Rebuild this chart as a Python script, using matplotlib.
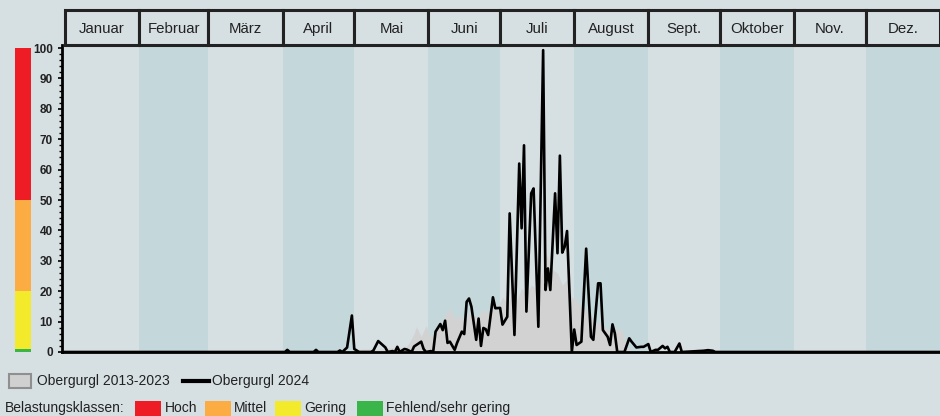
import numpy as np
import matplotlib
matplotlib.use("Agg")
import matplotlib.pyplot as plt
from matplotlib.patches import Rectangle
from matplotlib.lines import Line2D

plt.rcParams["font.family"] = ["Liberation Sans", "DejaVu Sans"]

# --- data -----------------------------------------------------------------
months = ["Januar", "Februar", "März", "April", "Mai", "Juni", "Juli",
          "August", "Sept.", "Oktober", "Nov.", "Dez."]
month_days = [31, 29, 31, 30, 31, 30, 31, 31, 30, 31, 30, 31]

# Obergurgl 2024 (day of year, 0 = 1 Jan)
days_2024 = [0, 92, 93, 94, 104, 105, 106, 114, 115, 116, 118, 120, 121, 122, 123,
             128, 129, 131, 134, 135, 137, 138, 139, 140, 142, 143, 145, 146, 149, 150,
             151, 153, 154, 155, 157, 158, 159, 160, 161, 163, 164, 166, 167, 168, 169,
             170, 172, 173, 174, 175, 176, 177, 179, 180, 182, 183, 185, 186, 188, 190,
             191, 192, 193, 195, 196, 198, 200, 201, 202, 203, 205, 206, 207, 208, 209,
             210, 212, 213, 214, 216, 218, 220, 221, 223, 224, 225, 227, 228, 229, 230,
             231, 234, 236, 237, 239, 241, 242, 244, 245, 247, 248, 250, 251, 252, 253,
             255, 257, 258, 267, 269, 271, 272, 366]
vals_2024 = [0, 0, 0.7, 0, 0, 0.7, 0, 0, 0.5, 0, 1.5, 12, 1.0, 0.5, 0,
             0, 0.5, 3.6, 1.5, 0, 0.3, 0, 1.7, 0, 1.0, 0.8, 0, 1.8, 3.4, 1.0,
             0, 0.3, 0, 6.7, 9.2, 7.2, 10.3, 3.0, 3.4, 0.7, 3.0, 6.7, 5.9, 16.5, 17.6,
             14.9, 4.0, 11.0, 2.0, 7.9, 7.5, 5.6, 18.0, 14.4, 14.5, 9.0, 11.6, 45.6, 5.6, 62.0,
             40.7, 68.0, 13.3, 52.2, 53.8, 8.3, 99.3, 20.4, 27.5, 20.4, 52.2, 32.5, 64.6, 32.7, 34.6,
             39.8, 0, 7.4, 2.3, 3.4, 34.0, 5.0, 4.0, 22.6, 22.6, 7.2, 5.0, 2.3, 9.1, 6.1,
             0, 0, 4.5, 3.4, 1.5, 1.7, 1.7, 2.6, 0, 0.7, 0.7, 2.0, 1.2, 1.7, 0,
             0, 2.8, 0, 0.4, 0.6, 0.4, 0, 0]

# Obergurgl 2013-2023 (mean)
days_ref = [0, 115, 120, 125, 130, 135, 139, 142, 144, 146, 147, 149, 151, 153, 155,
            157, 159, 161, 163, 165, 167, 169, 171, 173, 175, 177, 179, 181, 183, 185,
            187, 189, 191, 193, 195, 197, 199, 201, 202, 204, 206, 208, 210, 212, 214,
            216, 218, 220, 222, 224, 226, 228, 230, 233, 235, 237, 240, 366]
vals_ref = [0, 0, 0.5, 1.0, 0.8, 1.2, 1.5, 1.0, 3.0, 6.0, 8.3, 5.0, 8.6, 4.6, 7.0,
            9.0, 12.0, 14.4, 11.0, 12.0, 10.5, 13.0, 12.0, 11.6, 14.0, 13.0, 15.5, 15.0, 18.0, 16.0,
            19.0, 17.0, 21.0, 19.0, 22.0, 21.0, 24.0, 32.5, 31.0, 27.0, 26.0, 22.0, 23.7, 18.0, 17.0,
            15.0, 13.8, 12.0, 9.5, 10.0, 8.0, 7.2, 8.0, 7.2, 1.7, 0.5, 0, 0]

class_bounds = [0, 1, 20, 50, 100]
class_colors = ["#3ab54a", "#f2ea2b", "#fbac42", "#ee1c25"]
class_names = ["Hoch", "Mittel", "Gering", "Fehlend/sehr gering"]

# --- layout ---------------------------------------------------------------
W, H = 940, 416
BG = "#d6dfe2"
BAND = "#c4d8dc"
TXT = "#222222"

fig = plt.figure(figsize=(W / 100, H / 100), dpi=100, facecolor=BG)

def fx(px):
    return px / W

def fy(py):
    return 1 - py / H

x0 = -1.25
xmax = 366
ax = fig.add_axes([fx(62), fy(352), fx(W - 62), fy(45) - fy(352)])
ax.set_facecolor(BG)
ax.set_xlim(x0, xmax)
ax.set_ylim(0, 101)

starts = np.concatenate([[0], np.cumsum(month_days)[:-1]])
for i, (s, n) in enumerate(zip(starts, month_days)):
    if i % 2 == 1:
        ax.axvspan(s, s + n, color=BAND, lw=0, zorder=0)

ax.fill_between(days_ref, vals_ref, 0, color="#d2d2d2", lw=0, zorder=1)
ax.plot(days_2024, vals_2024, color="black", lw=1.9, zorder=3)

for side in ["top", "right"]:
    ax.spines[side].set_visible(False)
ax.spines["left"].set_linewidth(2)
ax.spines["bottom"].set_linewidth(2)
ax.set_xticks([])
ax.set_yticks(np.arange(0, 101, 10))
ax.set_yticks(np.arange(0, 101, 2), minor=True)
ax.tick_params(axis="y", which="major", length=3.2, width=1.2, pad=3.5,
               labelsize=8.5, colors="black")
ax.tick_params(axis="y", which="minor", length=2, width=1)
for lab in ax.get_yticklabels():
    lab.set_fontweight("bold")
    lab.set_color(TXT)

# colour scale bar
cax = fig.add_axes([fx(15), fy(352), fx(16), fy(45) - fy(352)])
cax.set_xlim(0, 1)
cax.set_ylim(0, 101)
for lo, hi, c in zip(class_bounds[:-1], class_bounds[1:], class_colors):
    cax.bar(0.5, hi - lo, bottom=lo, width=1, color=c, lw=0)
cax.axis("off")

# month header
hax = fig.add_axes([fx(62), fy(45), fx(W - 62), fy(10) - fy(45)])
hax.set_xlim(x0, xmax)
hax.set_ylim(0, 1)
hax.axis("off")
for s, n, name in zip(starts, month_days, months):
    hax.add_patch(Rectangle((s, 0), n, 1, facecolor=BG, edgecolor=TXT,
                            lw=2.2, clip_on=False))
    hax.text(s + n / 2, 0.47, name, ha="center", va="center", fontsize=10.8,
             color=TXT)

# legend
fs = 10
fig.patches.append(Rectangle((fx(9), fy(388)), fx(22), fy(374) - fy(388),
                             transform=fig.transFigure, facecolor="#d0d0d0",
                             edgecolor="#8f8f8f", lw=1.5))
fig.text(fx(37), fy(381), "Obergurgl 2013-2023", ha="left", va="center",
         fontsize=fs, color=TXT)
fig.lines.append(Line2D([fx(183), fx(209)], [fy(381), fy(381)],
                        transform=fig.transFigure, color="black", lw=3))
fig.text(fx(212), fy(381), "Obergurgl 2024", ha="left", va="center",
         fontsize=fs, color=TXT)

fig.text(fx(5), fy(408), "Belastungsklassen:", ha="left", va="center",
         fontsize=fs, color=TXT)
box_x = [135, 205, 275, 357]
text_x = [165, 234, 304, 386]
for bx, tx, c, name in zip(box_x, text_x, class_colors[::-1], class_names):
    fig.patches.append(Rectangle((fx(bx), fy(416)), fx(26), fy(401) - fy(416),
                                 transform=fig.transFigure, facecolor=c, lw=0))
    fig.text(fx(tx), fy(408), name, ha="left", va="center", fontsize=fs,
             color=TXT)

fig.savefig("out.png", dpi=100, facecolor=BG)
